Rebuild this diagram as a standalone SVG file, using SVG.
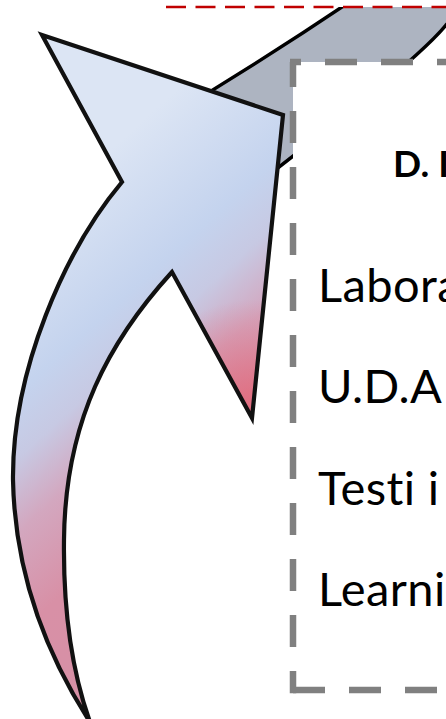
<svg xmlns="http://www.w3.org/2000/svg" width="446" height="719" viewBox="0 0 446 719">
  <defs>
    <linearGradient id="gBlue" gradientUnits="userSpaceOnUse" x1="110" y1="150" x2="376" y2="444">
      <stop offset="0" stop-color="#dce5f4"/>
      <stop offset="0.3" stop-color="#c4d3ee"/>
      <stop offset="0.42" stop-color="#c7c9e3"/>
      <stop offset="0.56" stop-color="#d3a7bf"/>
      <stop offset="0.75" stop-color="#d890a6"/>
      <stop offset="1" stop-color="#d690a6"/>
    </linearGradient>
    <radialGradient id="gRed" gradientUnits="userSpaceOnUse" cx="250" cy="410" r="110">
      <stop offset="0" stop-color="#e2687a" stop-opacity="0.9"/>
      <stop offset="1" stop-color="#e2687a" stop-opacity="0"/>
    </radialGradient>
    <style>
      .edge { fill: none; stroke: #808080; stroke-width: 6.5; stroke-dasharray: 32 24; }
      .red { fill: none; stroke: #c00000; stroke-width: 2.6; stroke-dasharray: 20 9.5; }
      .item { font-family: "Lato", "Liberation Sans", sans-serif; font-size: 47px; letter-spacing: 0.4px; fill: #000; font-variant-ligatures: none; }
      .head { font-family: "Lato", "Liberation Sans", sans-serif; font-size: 37px; font-weight: bold; fill: #000; font-variant-ligatures: none; }
    </style>
  </defs>

  <g id="connectors">
    <path id="gray-arrow" d="M 150,128 Q 265,60 385,-22 L 490,-22 L 446,25 C 420,57 330,128 230,205 Z" fill="#adb4c1" stroke="#000" stroke-width="3.5" stroke-linejoin="miter"/>
    <g id="blue-arrow">
      <path d="M 42,35 L 283,115 L 252,418 L 172,272 C 110,340 65,420 64,540 C 63,620 75,680 90,722 C 50,660 15,580 13,480 C 12,370 65,250 122,182 Z" fill="url(#gBlue)"/>
      <path d="M 42,35 L 283,115 L 252,418 L 172,272 C 110,340 65,420 64,540 C 63,620 75,680 90,722 C 50,660 15,580 13,480 C 12,370 65,250 122,182 Z" fill="url(#gRed)" stroke="#111" stroke-width="4.2" stroke-linejoin="miter" stroke-miterlimit="12"/>
    </g>
  </g>

  <g id="red-box">
    <rect x="167" y="-60" width="320" height="67" fill="#fff"/>
    <line class="red" x1="167" y1="-20" x2="167" y2="7"/>
    <line class="red" x1="166" y1="7" x2="446" y2="7"/>
  </g>

  <g id="box-D">
    <rect x="293" y="62" width="200" height="628" fill="#fff"/>
    <line class="edge" x1="293" y1="62" x2="293" y2="693.25" stroke-dashoffset="7"/>
    <line class="edge" x1="290" y1="62" x2="446" y2="62" stroke-dashoffset="21"/>
    <line class="edge" x1="293" y1="690" x2="446" y2="690"/>
    <text class="head" x="393" y="177">D. I</text>
    <text class="item" x="318" y="302">Labora</text>
    <text class="item" x="318" y="403">U.D.A</text>
    <text class="item" x="318" y="505">Testi i</text>
    <text class="item" x="318" y="606">Learni</text>
  </g>
</svg>
